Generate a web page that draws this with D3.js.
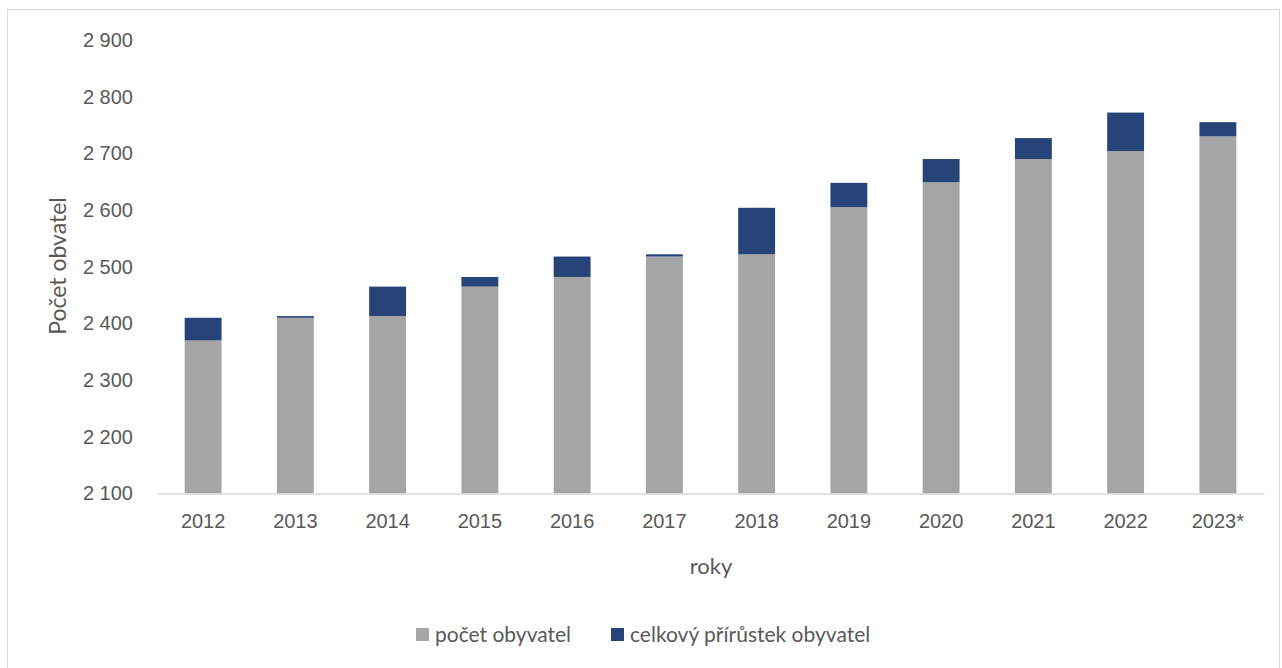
<!DOCTYPE html>
<html>
<head>
<meta charset="utf-8">
<script src="https://cdn.jsdelivr.net/npm/d3@7"></script>
<style>
  body { margin: 0; background: #fff; }
  svg { display: block; font-family: Lato, "Open Sans", sans-serif; }
</style>
</head>
<body>
<script>
// Data
const years = ['2012', '2013', '2014', '2015', '2016', '2017', '2018', '2019', '2020', '2021', '2022', '2023*'];
const population = [2370, 2410, 2413, 2465, 2482, 2518, 2522, 2605, 2649, 2690, 2704, 2730];
const increase = [40, 3, 52, 17, 36, 4, 82, 43, 41, 37, 68, 25];
const yTicks = [2100, 2200, 2300, 2400, 2500, 2600, 2700, 2800, 2900];

const width = 1282, height = 668;
const textColor = '#595959';

const svg = d3.select('body').append('svg')
  .attr('width', width)
  .attr('height', height);

// Outer chart border
svg.append('rect')
  .attr('x', 7.5).attr('y', 9.5)
  .attr('width', 1272).attr('height', 670)
  .attr('fill', '#fff')
  .attr('stroke', '#d9d9d9');

const x = d3.scaleBand()
  .domain(years)
  .range([157, 1264])
  .paddingInner(0.6)
  .paddingOuter(0.3);

const y = d3.scaleLinear()
  .domain([2100, 2900])
  .range([493.5, 40]);

// Stack the two series
const rows = years.map((yr, i) => ({ year: yr, base: population[i], inc: increase[i] }));
const stacked = d3.stack().keys(['base', 'inc'])(rows);
const colors = ['#a5a5a5', '#264478'];

stacked.forEach((layer, li) => {
  svg.append('g')
    .selectAll('rect')
    .data(layer)
    .join('rect')
      .attr('x', d => x(d.data.year))
      .attr('width', x.bandwidth())
      .attr('y', d => y(d[1]))
      .attr('height', d => y(Math.max(d[0], 2100)) - y(d[1]))
      .attr('fill', colors[li]);
});

// Y axis (labels only)
const yAxis = svg.append('g')
  .attr('transform', 'translate(133,0)')
  .call(d3.axisLeft(y).tickValues(yTicks).tickSize(0).tickPadding(0)
    .tickFormat(d => d3.format(',')(d).replace(/,/g, ' ')));
yAxis.select('.domain').remove();
yAxis.selectAll('text')
  .attr('fill', textColor)
  .style('font-size', '20px');

// X axis
const xAxis = svg.append('g')
  .attr('transform', 'translate(0,493.5)')
  .call(d3.axisBottom(x).tickSize(0).tickPadding(20));
xAxis.select('.domain').attr('stroke', '#d9d9d9').attr('stroke-width', 1.5);
xAxis.selectAll('text')
  .attr('fill', textColor)
  .style('font-size', '20px');

// Axis titles
svg.append('text')
  .attr('transform', 'translate(66,266) rotate(-90)')
  .attr('text-anchor', 'middle')
  .attr('fill', textColor)
  .style('font-size', '23px')
  .text('Počet obvatel');

svg.append('text')
  .attr('x', 711).attr('y', 574)
  .attr('text-anchor', 'middle')
  .attr('fill', textColor)
  .style('font-size', '22px')
  .text('roky');

// Legend
const legendItems = [
  { label: 'počet obyvatel', color: colors[0], x: 416 },
  { label: 'celkový přírůstek obyvatel', color: colors[1], x: 611 }
];
const legend = svg.append('g');
legendItems.forEach(item => {
  legend.append('rect')
    .attr('x', item.x).attr('y', 628)
    .attr('width', 13).attr('height', 13)
    .attr('fill', item.color);
  legend.append('text')
    .attr('x', item.x + 19).attr('y', 642)
    .attr('fill', textColor)
    .style('font-size', '21px')
    .text(item.label);
});
</script>
</body>
</html>
